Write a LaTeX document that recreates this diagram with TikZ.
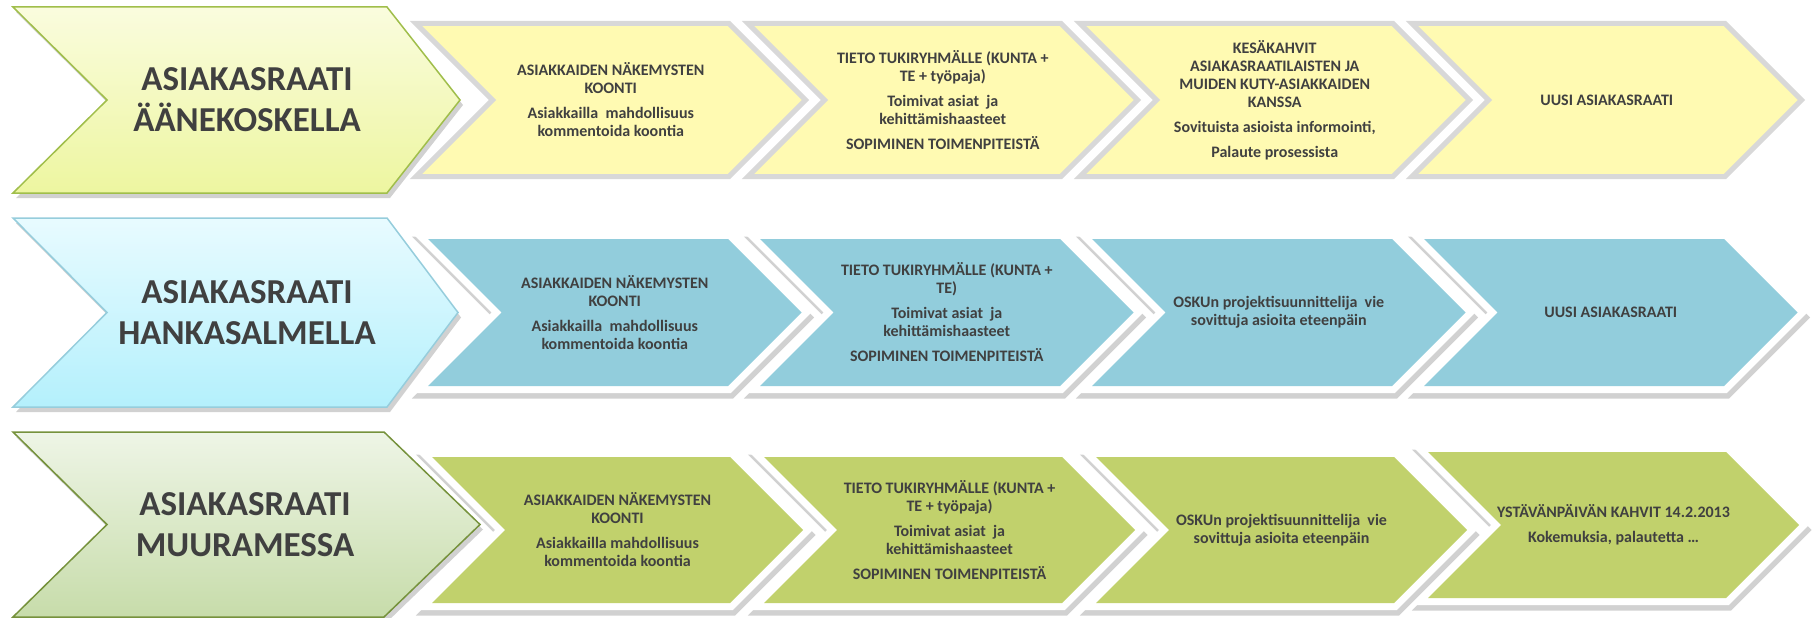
\documentclass[tikz,border=0pt]{standalone}
\usepackage{fontspec}
\setmainfont{Carlito}
\usetikzlibrary{positioning}

\definecolor{txtgray}{RGB}{64,64,64}
\definecolor{yelfill}{RGB}{255,250,178}
\definecolor{yelline}{RGB}{216,216,216}
\definecolor{bluefill}{RGB}{146,205,220}
\definecolor{greenfill}{RGB}{193,209,108}

\tikzstyle{steptext} = [align=center, text=txtgray, inner sep=0pt,
                        font=\bfseries\fontsize{16}{18}\selectfont]
\tikzstyle{titletext} = [align=center, text=txtgray, inner sep=0pt,
                         font=\bfseries\fontsize{35}{41}\selectfont]
\tikzstyle{yelstep} = [fill=yelfill, draw=yelline, line width=5pt]
\tikzstyle{whiteedge} = [draw=white, line width=14pt]
\tikzstyle{stepshadow} = [draw=black, opacity=0.18, line width=15pt, shift={(2,5)}]
\tikzstyle{titleshadow} = [fill=black, opacity=0.18, shift={(3,5)}]

% chevron with notch: style, left x, top y, body width, half height
\newcommand{\stepchev}[5]{\path[#1] (#2,#3) -- ++(#4,0) -- ++(#5,#5)
  -- ++(-#5,#5) -- ++(-#4,0) -- ++(#5,-#5) -- cycle;}
\newcommand{\raisedchev}[5]{\stepchev{stepshadow}{#2}{#3}{#4}{#5}
  \stepchev{whiteedge}{#2}{#3}{#4}{#5}\stepchev{fill=#1}{#2}{#3}{#4}{#5}}
% title chevron: style, top y, body width, half height, tip depth
\newcommand{\titlechev}[5]{\path[#1] (13,#2) -- ++(#3,0) -- ++(#5,#4)
  -- ++(-#5,#4) -- ++(-#3,0) -- ++(94,-#4) -- cycle;}

\begin{document}
\begin{tikzpicture}[x=1pt, y=-1pt, node distance=332pt]
 \useasboundingbox (0,0) rectangle (1816,618);

 % Äänekoski
 \stepchev{yelstep}{416}{23.5}{313}{76.5}
 \stepchev{yelstep}{748}{23.5}{313}{76.5}
 \stepchev{yelstep}{1080}{23.5}{313}{76.5}
 \stepchev{yelstep}{1412}{23.5}{313}{76.5}
 \titlechev{titleshadow}{7}{374}{93}{73}
 \titlechev{top color={rgb,255:red,250;green,252;blue,222},
            bottom color={rgb,255:red,237;green,246;blue,160},
            draw={rgb,255:red,160;green,190;blue,75}, line width=1.5pt}{7}{374}{93}{73}
 \node (T1) [titletext] at (247,100) {ASIAKASRAATI\\ÄÄNEKOSKELLA};
 \node (A1) [steptext] at (610.75,100)
            {ASIAKKAIDEN NÄKEMYSTEN\\KOONTI\\[7pt]Asiakkailla~ mahdollisuus\\kommentoida koontia};
 \node (A2) [steptext,right of=A1]
            {TIETO TUKIRYHMÄLLE (KUNTA +\\TE + työpaja)\\[7pt]Toimivat asiat~ ja\\kehittämishaasteet\\[7pt]SOPIMINEN TOIMENPITEISTÄ};
 \node (A3) [steptext,right of=A2]
            {KESÄKAHVIT\\ASIAKASRAATILAISTEN JA\\MUIDEN KUTY-ASIAKKAIDEN\\KANSSA\\[7pt]Sovituista asioista informointi,\\[7pt]Palaute prosessista};
 \node (A4) [steptext,right of=A3] {UUSI ASIAKASRAATI};

 % Hankasalmi
 \raisedchev{bluefill}{428}{239}{300}{73.5}
 \raisedchev{bluefill}{760}{239}{300}{73.5}
 \raisedchev{bluefill}{1092}{239}{300}{73.5}
 \raisedchev{bluefill}{1424}{239}{300}{73.5}
 \titlechev{titleshadow}{218}{374}{94.5}{71}
 \titlechev{top color={rgb,255:red,232;green,251;blue,255},
            bottom color={rgb,255:red,180;green,240;blue,252},
            draw={rgb,255:red,150;green,205;blue,220}, line width=1.5pt}{218}{374}{94.5}{71}
 \node (T2) [titletext] at (247,312.5) {ASIAKASRAATI\\HANKASALMELLA};
 \node (B1) [steptext] at (614.75,312.5)
            {ASIAKKAIDEN NÄKEMYSTEN\\KOONTI\\[7pt]Asiakkailla~ mahdollisuus\\kommentoida koontia};
 \node (B2) [steptext,right of=B1]
            {TIETO TUKIRYHMÄLLE (KUNTA +\\TE)\\[7pt]Toimivat asiat~ ja\\kehittämishaasteet\\[7pt]SOPIMINEN TOIMENPITEISTÄ};
 \node (B3) [steptext,right of=B2]
            {OSKUn projektisuunnittelija~ vie\\sovittuja asioita eteenpäin};
 \node (B4) [steptext,right of=B3] {UUSI ASIAKASRAATI};

 % Muurame
 \raisedchev{greenfill}{432}{457}{298}{73}
 \raisedchev{greenfill}{764}{457}{298}{73}
 \raisedchev{greenfill}{1096}{457}{298}{73}
 \raisedchev{greenfill}{1428}{452}{298}{73}
 \titlechev{titleshadow}{432}{371}{92.5}{96}
 \titlechev{top color={rgb,255:red,238;green,245;blue,230},
            bottom color={rgb,255:red,199;green,220;blue,170},
            draw={rgb,255:red,118;green,146;blue,60}, line width=1.5pt}{432}{371}{92.5}{96}
 \node (T3) [titletext] at (245,524.5) {ASIAKASRAATI\\MUURAMESSA};
 \node (C1) [steptext] at (617.5,530)
            {ASIAKKAIDEN NÄKEMYSTEN\\KOONTI\\[7pt]Asiakkailla mahdollisuus\\kommentoida koontia};
 \node (C2) [steptext,right of=C1]
            {TIETO TUKIRYHMÄLLE (KUNTA +\\TE + työpaja)\\[7pt]Toimivat asiat~ ja\\kehittämishaasteet\\[7pt]SOPIMINEN TOIMENPITEISTÄ};
 \node (C3) [steptext,right of=C2]
            {OSKUn projektisuunnittelija~ vie\\sovittuja asioita eteenpäin};
 \node (C4) [steptext,right of=C3,yshift=5pt]
            {YSTÄVÄNPÄIVÄN KAHVIT 14.2.2013\\[7pt]Kokemuksia, palautetta …};
\end{tikzpicture}
\end{document}
